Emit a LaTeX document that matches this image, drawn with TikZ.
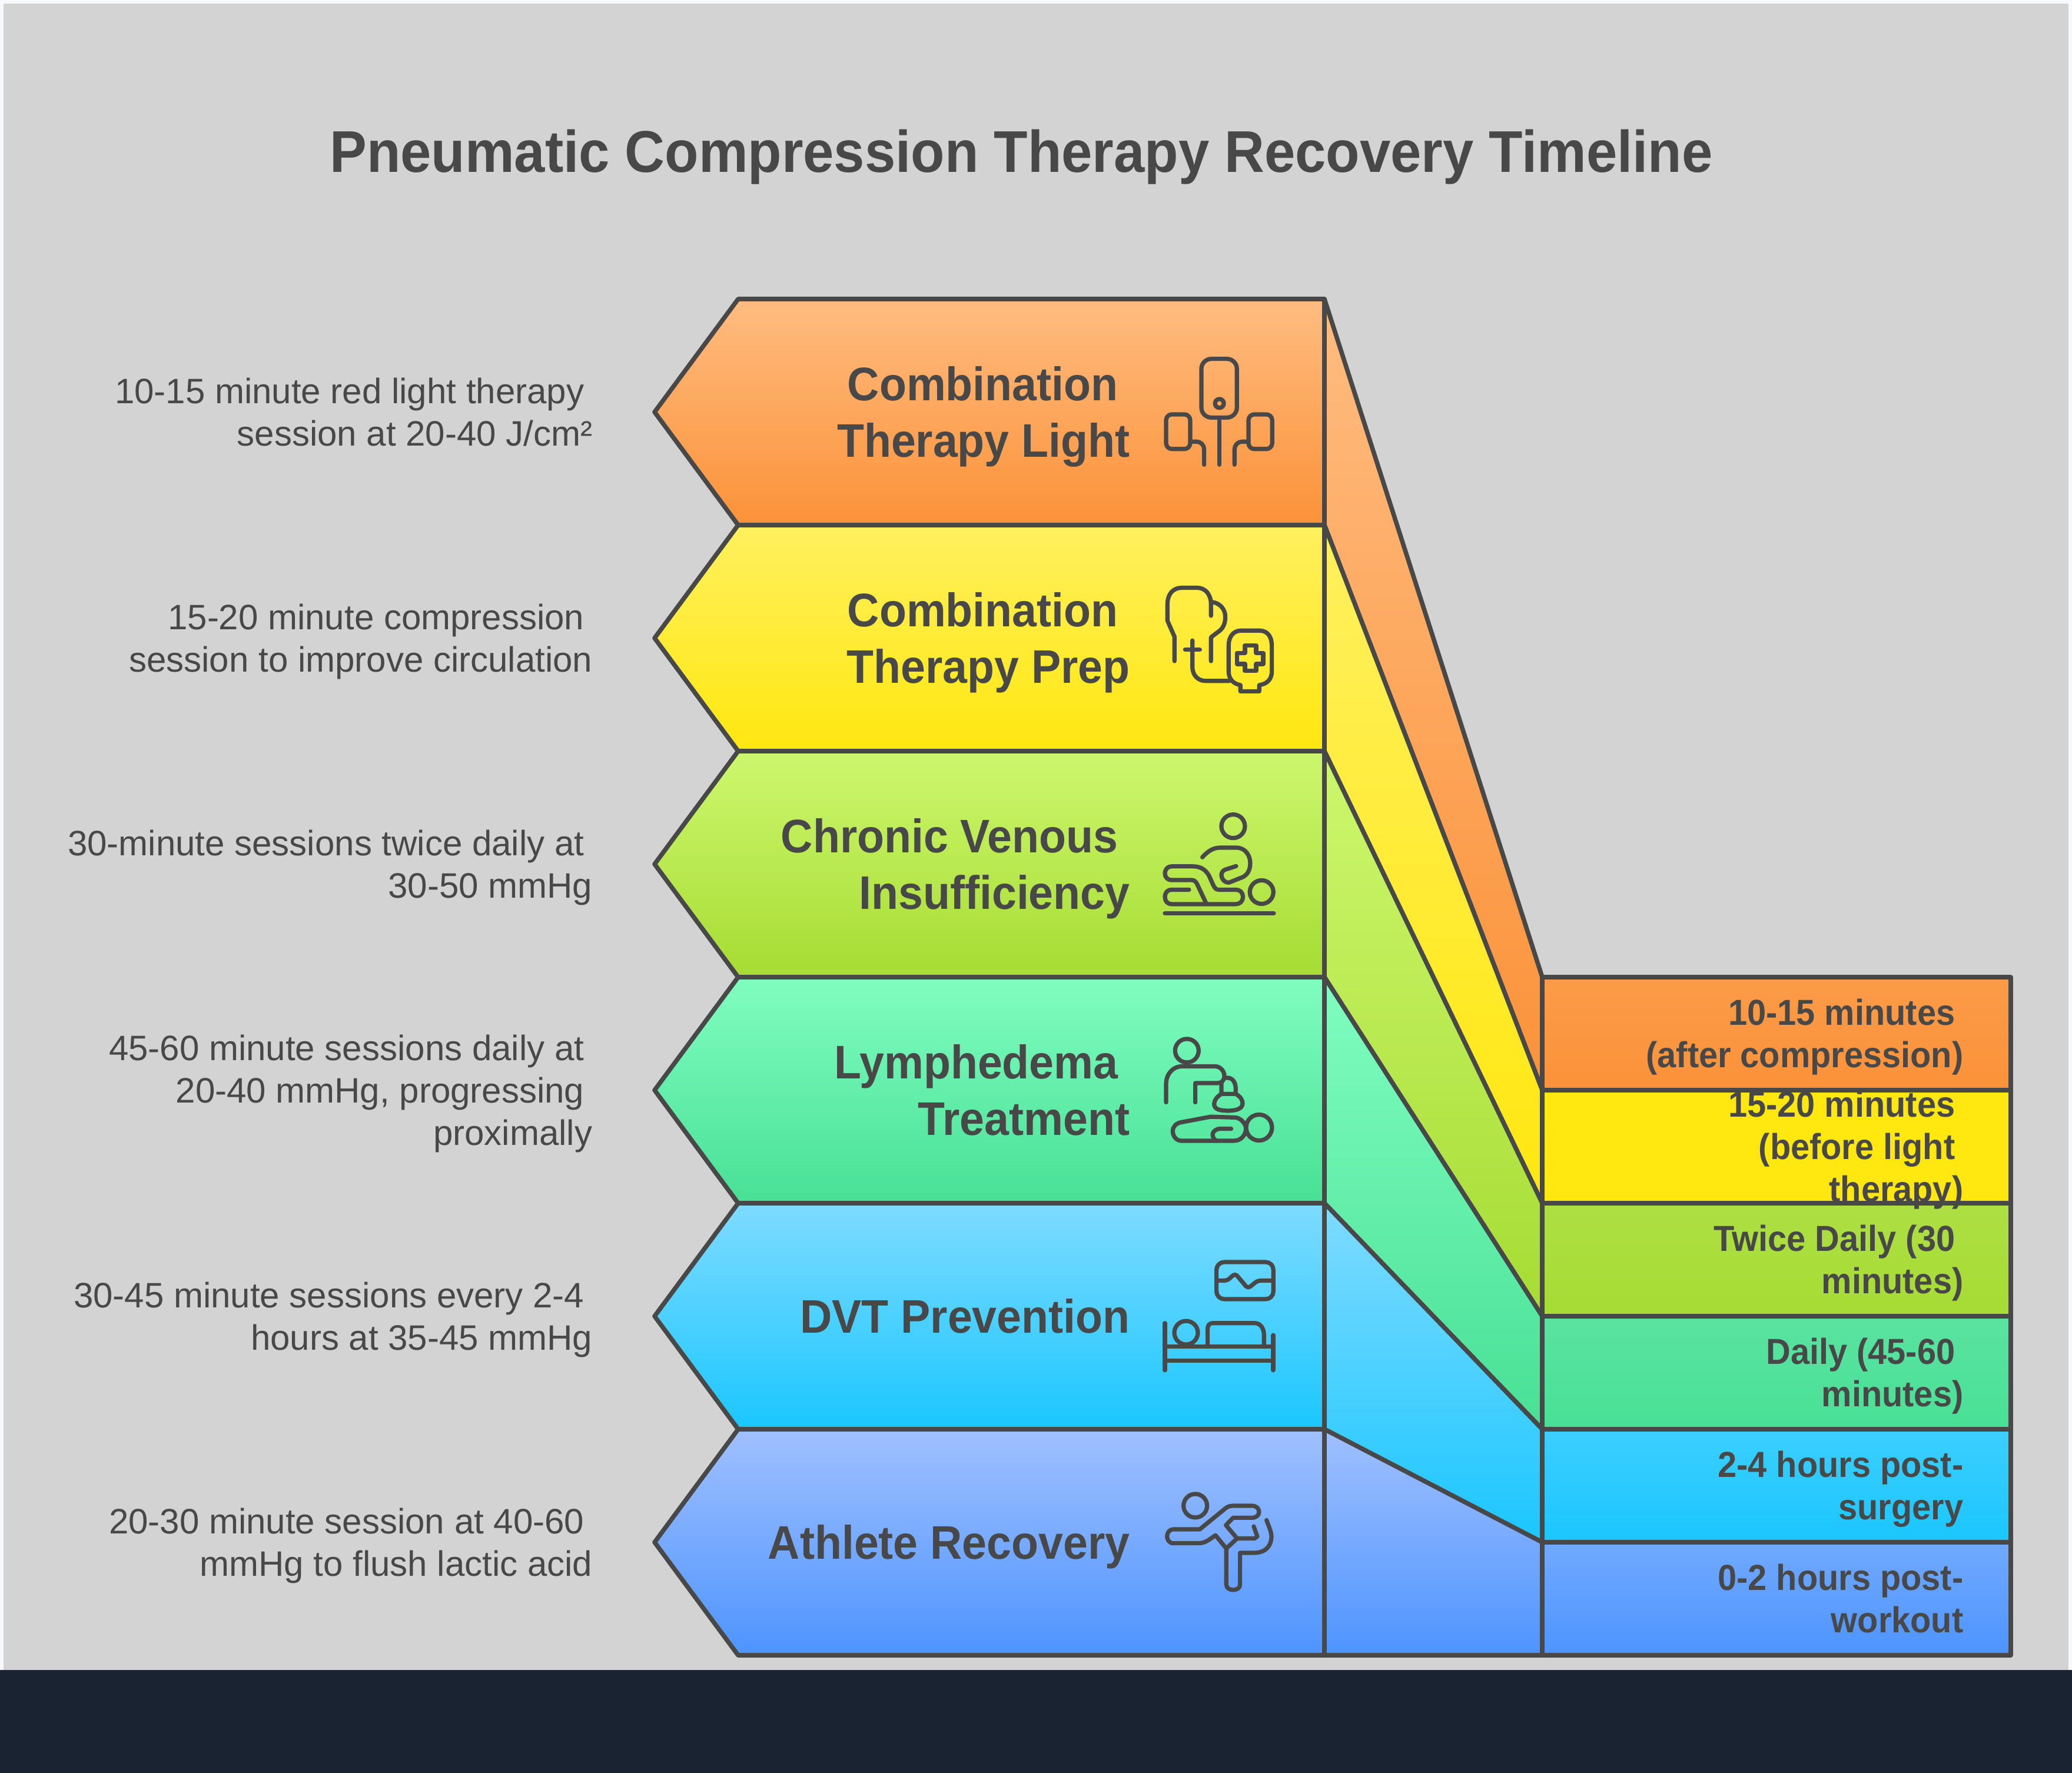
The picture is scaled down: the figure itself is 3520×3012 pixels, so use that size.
\documentclass[tikz,border=0pt]{standalone}
\usepackage{fontspec}
\setmainfont{Liberation Sans}[BoldFeatures={FakeStretch=0.94}]
\definecolor{margc}{HTML}{F7F9FC}
\definecolor{bgc}{HTML}{D3D3D3}
\definecolor{barc}{HTML}{1A2332}
\definecolor{ink}{HTML}{484848}
\definecolor{oT}{HTML}{FFBC80}\definecolor{oB}{HTML}{FB9239}
\definecolor{yT}{HTML}{FFF05F}\definecolor{yB}{HTML}{FFE70F}
\definecolor{gT}{HTML}{CDF76E}\definecolor{gB}{HTML}{A6DC33}
\definecolor{tT}{HTML}{80FDC0}\definecolor{tB}{HTML}{48E095}
\definecolor{cT}{HTML}{7FDBFF}\definecolor{cB}{HTML}{1AC6FF}
\definecolor{bT}{HTML}{A0C0FF}\definecolor{bB}{HTML}{4D94FF}
\tikzset{
  shapeline/.style={draw=ink,line width=0.76mm,line join=round},
  titletext/.style={text=ink,font=\bfseries\fontsize{10mm}{12mm}\selectfont,anchor=center,inner sep=0pt},
  bandtext/.style={text=ink,font=\bfseries\fontsize{8mm}{9.6mm}\selectfont,align=right,anchor=east,inner sep=0pt},
  sidetext/.style={text=ink,font=\fontsize{6mm}{7.2mm}\selectfont,align=right,anchor=east,inner sep=0pt},
  boxtext/.style={text=ink,font=\bfseries\fontsize{6.14mm}{7.2mm}\selectfont,align=right,anchor=east,inner sep=0pt},
  iconline/.style={draw=ink,line width=0.72mm,line cap=round,line join=round,fill=none},
}
\newcommand{\ts}{\rule{1.4mm}{0pt}}
\newcommand{\tb}{\rule{2mm}{0pt}}
\newcommand{\st}{\rule[-.2\baselineskip]{0pt}{\baselineskip}}
\begin{document}
\begin{tikzpicture}[x=0.1mm,y=-0.1mm]
\useasboundingbox (0,0) rectangle (3520,3012);
\fill[margc] (0,0) rectangle (3520,3012);
\fill[bgc] (6,6) rectangle (3514,2837);
\fill[barc] (0,2837) rectangle (3520,3012);
\node[titletext] (title) at (1735,257) {\st Pneumatic Compression Therapy Recovery Timeline};
% bands
\foreach \t/\cA/\cB/\ya/\yb in {508/oT/oB/1660/1852, 892/yT/yB/1852/2044, 1276/gT/gB/2044/2236, 1660/tT/tB/2236/2428, 2044/cT/cB/2428/2620, 2428/bT/bB/2620/2812}{
  \pgfmathsetmacro{\b}{\t+384}
  \pgfmathsetmacro{\m}{\t+192}
  \path[shapeline,top color=\cA,bottom color=\cB] (2250,\t) -- (2620,\ya) -- (2620,\yb) -- (2250,\b) -- cycle;
  \path[shapeline,top color=\cA,bottom color=\cB] (1254,\t) -- (2250,\t) -- (2250,\b) -- (1254,\b) -- (1112,\m) -- cycle;
}
% right boxes
\path[shapeline,top color=oB!92!white,bottom color=oB] (2620,1660) rectangle (3416,1852);
\path[shapeline,top color=yB,bottom color=yB] (2620,1852) rectangle (3416,2044);
\path[shapeline,top color=gB!92!white,bottom color=gB] (2620,2044) rectangle (3416,2236);
\path[shapeline,top color=tB!90!white,bottom color=tB] (2620,2236) rectangle (3416,2428);
\path[shapeline,top color=cB!85!white,bottom color=cB] (2620,2428) rectangle (3416,2620);
\path[shapeline,top color=bB!80!white,bottom color=bB] (2620,2620) rectangle (3416,2812);
\node[boxtext] (b1) at (3336,1756) {\st 10-15 minutes\ts\\\st (after compression)};
\node[boxtext] (b2) at (3336,1948) {\st 15-20 minutes\ts\\(before light\ts\\\st therapy)};
\node[boxtext] (b3) at (3336,2140) {\st Twice Daily (30\ts\\\st minutes)};
\node[boxtext] (b4) at (3336,2332) {\st Daily (45-60\ts\\\st minutes)};
\node[boxtext] (b5) at (3336,2524) {\st 2-4 hours post-\\\st surgery};
\node[boxtext] (b6) at (3336,2716) {\st 0-2 hours post-\\\st workout};
% band labels
\node[bandtext] (l1) at (1920,700) {\st Combination\tb\\\st Therapy Light};
\node[bandtext] (l2) at (1920,1084) {\st Combination\tb\\\st Therapy Prep};
\node[bandtext] (l3) at (1920,1468) {\st Chronic Venous\tb\\\st Insufficiency};
\node[bandtext] (l4) at (1920,1852) {\st Lymphedema\tb\\\st Treatment};
\node[bandtext] (l5) at (1920,2236) {\st DVT Prevention};
\node[bandtext] (l6) at (1920,2620) {\st Athlete Recovery};
% side texts
\node[sidetext] (s1) at (1007,700) {\st 10-15 minute red light therapy\ts\\\st session at 20-40 J/cm²};
\node[sidetext] (s2) at (1007,1084) {\st 15-20 minute compression\ts\\\st session to improve circulation};
\node[sidetext] (s3) at (1007,1468) {\st 30-minute sessions twice daily at\ts\\\st 30-50 mmHg};
\node[sidetext] (s4) at (1007,1852) {\st 45-60 minute sessions daily at\ts\\20-40 mmHg, progressing\ts\\\st proximally};
\node[sidetext] (s5) at (1007,2236) {\st 30-45 minute sessions every 2-4\ts\\\st hours at 35-45 mmHg};
\node[sidetext] (s6) at (1007,2620) {\st 20-30 minute session at 40-60\ts\\\st mmHg to flush lactic acid};
% icons 1 and 2
\begin{scope}[shift={(1900,560)},x=0.03333mm,y=-0.04209mm]
 \draw[iconline,rounded corners=1.7mm] (423,118) rectangle (604,355);
 \draw[iconline] (515,298) circle[radius=0.75mm];
 \draw[iconline] (515,355) -- (515,545);
 \draw[iconline,rounded corners=1mm] (243,342) rectangle (366,482);
 \draw[iconline,rounded corners=1mm] (663,342) rectangle (784,482);
 \draw[iconline,rounded corners=1.3mm] (366,452) -- (437,452) -- (437,545);
 \draw[iconline,rounded corners=1.3mm] (663,452) -- (592,452) -- (592,545);
 % prep
 \draw[iconline] (286,1338) -- (286,1240) -- (250,1175) -- (250,1110) .. controls (250,1065) and (280,1042) .. (325,1042) -- (400,1042) .. controls (445,1042) and (472,1070) .. (472,1110) -- (472,1155);
 \draw[iconline] (480,1100) .. controls (520,1105) and (545,1130) .. (545,1160) .. controls (545,1190) and (530,1210) .. (505,1222) -- (472,1242) -- (472,1338);
 \draw[iconline] (340,1292) -- (415,1292);
 \draw[iconline] (377,1255) -- (377,1360) .. controls (377,1395) and (405,1418) .. (445,1418) -- (565,1418);
 \draw[iconline] (625,1215) -- (720,1215) .. controls (760,1215) and (782,1240) .. (782,1275) -- (782,1380) .. controls (782,1410) and (760,1430) .. (718,1435) -- (718,1460) -- (622,1460) -- (622,1435) .. controls (585,1430) and (562,1410) .. (562,1380) -- (562,1275) .. controls (562,1240) and (585,1215) .. (625,1215) -- cycle;
 \draw[iconline] (645,1275) -- (702,1275) -- (702,1305) -- (738,1305) -- (738,1350) -- (702,1350) -- (702,1378) -- (645,1378) -- (645,1350) -- (605,1350) -- (605,1305) -- (645,1305) -- cycle;
\end{scope}
% icons 3 and 4
\begin{scope}[shift={(1900,1340)},x=0.03333mm,y=-0.04082mm]
 \draw[iconline] (585,156) circle[radius=2mm];
 \draw[iconline] (428,285) .. controls (460,255) and (490,245) .. (520,245) -- (600,245) .. controls (650,245) and (672,280) .. (672,310) .. controls (672,345) and (650,365) .. (620,372) -- (565,390) .. controls (540,392) and (525,375) .. (525,358) .. controls (527,345) and (535,338) .. (550,335) -- (600,322);
 \draw[iconline] (360,420) -- (270,420) .. controls (250,420) and (237,433) .. (237,450) .. controls (237,467) and (250,480) .. (270,480) -- (600,480) .. controls (620,480) and (635,467) .. (635,450) .. controls (635,433) and (620,420) .. (600,420) -- (510,420) .. controls (497,420) and (490,412) .. (483,400) -- (462,362) .. controls (445,337) and (420,323) .. (380,323) -- (270,323) .. controls (250,323) and (237,337) .. (237,352) .. controls (237,367) and (250,380) .. (270,380) -- (375,380) .. controls (390,380) and (397,390) .. (402,398) -- (448,478);
 \draw[iconline] (730,430) circle[radius=2mm];
 \draw[iconline] (237,518) -- (792,518);
 % lymphedema
 \draw[iconline] (349,1090) circle[radius=2mm];
 \draw[iconline] (243,1305) -- (243,1230) .. controls (243,1185) and (280,1155) .. (325,1155) -- (490,1155) .. controls (520,1155) and (540,1175) .. (540,1195) .. controls (540,1215) and (525,1225) .. (505,1225) -- (392,1225) -- (392,1305);
 \draw[iconline] (540,1203) -- (555,1203) .. controls (585,1203) and (598,1225) .. (598,1250) -- (598,1270);
 \draw[iconline] (525,1225) -- (525,1270) -- (598,1270) .. controls (620,1280) and (635,1295) .. (633,1312) .. controls (630,1335) and (590,1340) .. (560,1340) .. controls (520,1340) and (488,1335) .. (488,1312) .. controls (488,1295) and (505,1280) .. (525,1270);
 \draw[iconline] (320,1388) -- (470,1365) -- (590,1368) .. controls (625,1368) and (650,1395) .. (650,1415) .. controls (650,1440) and (625,1465) .. (590,1465) -- (320,1465) .. controls (295,1465) and (277,1445) .. (277,1425) .. controls (277,1405) and (295,1392) .. (320,1388) -- cycle;
 \draw[iconline] (575,1415) -- (520,1415) .. controls (495,1415) and (480,1428) .. (480,1440) .. controls (480,1450) and (490,1462) .. (500,1465);
 \draw[iconline] (717,1410) circle[radius=2.2mm];
\end{scope}
% icons 5 and 6
\begin{scope}[shift={(1900,2100)},x=0.03333mm,y=-0.04082mm]
 \draw[iconline,rounded corners=1.3mm] (500,108) rectangle (790,262);
 \draw[iconline,rounded corners=0.5mm] (500,185) -- (555,185) -- (595,155) -- (660,218) -- (710,185) -- (790,185);
 \draw[iconline] (237,362) -- (237,558);
 \draw[iconline] (789,412) -- (789,558);
 \draw[iconline] (237,460) -- (789,460);
 \draw[iconline] (237,518) -- (789,518);
 \draw[iconline] (345,402) circle[radius=2mm];
 \draw[iconline] (455,460) -- (455,385) .. controls (455,370) and (465,362) .. (480,362) -- (695,362) .. controls (725,362) and (742,385) .. (742,410) -- (742,460);
 % athlete
 \draw[iconline] (392,1122) circle[radius=2mm];
 \draw[iconline] (605,1258) -- (550,1300) -- (495,1245) .. controls (470,1258) and (445,1278) .. (410,1278) -- (280,1278) .. controls (258,1278) and (248,1262) .. (248,1250) .. controls (248,1235) and (260,1220) .. (280,1220) -- (415,1220) -- (535,1140) .. controls (550,1128) and (565,1122) .. (585,1122) -- (680,1122) .. controls (705,1122) and (717,1135) .. (717,1148) .. controls (717,1160) and (705,1172) .. (680,1172) -- (585,1172) -- (548,1203) -- (605,1258) -- (695,1258) -- (708,1250) -- (690,1208);
 \draw[iconline] (550,1295) -- (550,1450) .. controls (550,1480) and (620,1480) .. (620,1450) -- (620,1318) -- (690,1318) .. controls (750,1318) and (780,1290) .. (780,1250) .. controls (780,1230) and (765,1205) .. (755,1182);
\end{scope}
\end{tikzpicture}
\end{document}
